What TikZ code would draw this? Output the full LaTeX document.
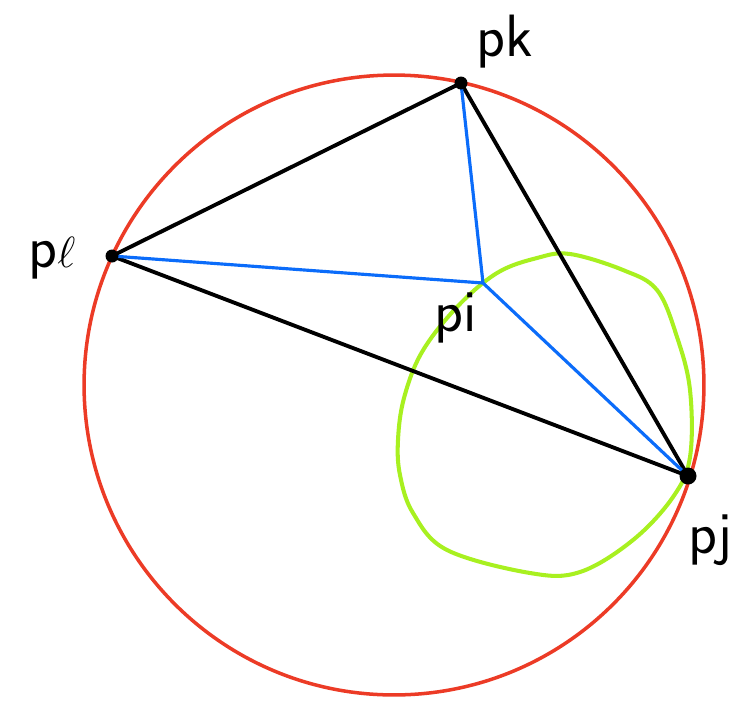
\documentclass[tikz,border=0pt]{standalone}
\usepackage{amsmath}
\usepackage{xcolor}
\usepackage{tikz}
\definecolor{circred}{HTML}{EC3B26}
\definecolor{linkblue}{HTML}{0B6CFA}
\definecolor{blobgreen}{HTML}{A8F020}
\tikzset{
    pt/.style={circle,fill=black,inner sep=0pt,minimum size=0.26cm},
    lbl/.style={font=\sffamily\fontsize{34}{38}\selectfont},
}

\begin{document}
\begin{tikzpicture}[x=0.02cm, y=-0.02cm, line cap=round, line join=round]
        \useasboundingbox (0,0) rectangle (734,701);
        % 外接圆
        \draw [circred,line width=2pt] (394,385) circle (6.2cm);
        % 绿色区域
        \draw [blobgreen,line width=2.3pt] plot [smooth cycle,tension=0.6] coordinates {
            (570,254) (623,270) (657,290) (677,337) (690,390) (690,457)
            (673,497) (633,540) (580,572) (530,573) (447,550) (413,513)
            (400,475) (398,440) (404,398) (422,352) (457,307) (497,273) (537,258)};
        % 顶点
        \coordinate (pk) at (461,83);
        \coordinate (pl) at (112,256);
        \coordinate (pj) at (688,476);
        \coordinate (pi) at (483,283);
        % 三角形
        \draw [black,line width=2.2pt] (pl) -- (pk) -- (pj) -- cycle;
        % 连线
        \draw [linkblue,line width=1.8pt] (pk) -- (pi) -- (pl) (pi) -- (pj);
        \node [pt] (dk) at (pk) {};
        \node [pt] (dl) at (pl) {};
        \node [pt,minimum size=0.34cm] (dj) at (pj) {};
        % 标注
        \node [lbl] (lk) at (505,42) {pk};
        \node [lbl] (ll) at (52,258) {p$\ell$};
        \node [lbl] (li) at (456,318) {pi};
        \node [lbl] (lj) at (710,540) {pj};
    \end{tikzpicture}
\end{document}
